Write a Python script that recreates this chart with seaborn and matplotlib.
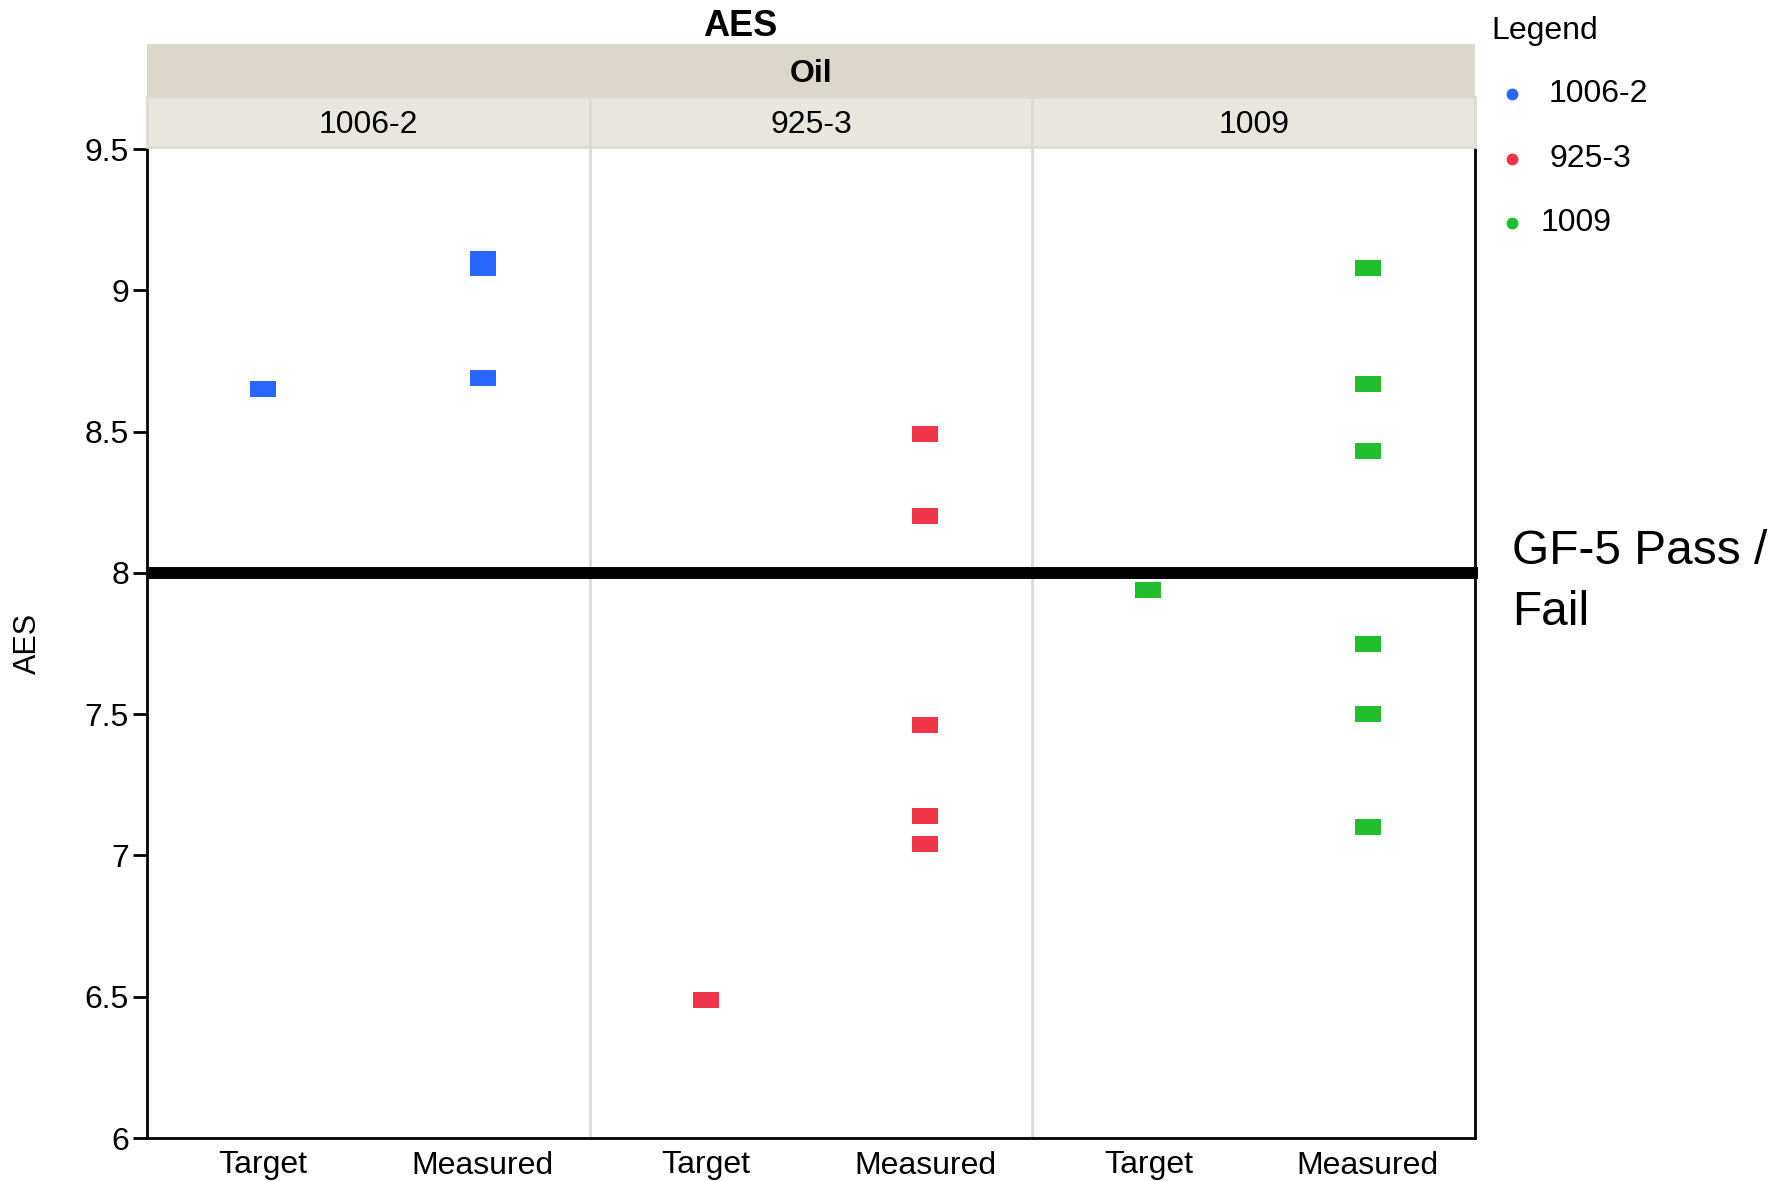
import numpy as np
import pandas as pd
import matplotlib
matplotlib.use("Agg")
import matplotlib.pyplot as plt
from matplotlib.patches import Rectangle
from matplotlib.lines import Line2D
import seaborn as sns

# ---- data ----
samples = ["1006-2", "925-3", "1009"]
categories = ["Target", "Measured"]
target_1006 = [8.65]
measured_1006 = [9.11, 9.08, 8.69]
target_925 = [6.49]
measured_925 = [8.49, 8.20, 7.46, 7.14, 7.04]
target_1009 = [7.94]
measured_1009 = [9.08, 8.67, 8.43, 7.75, 7.50, 7.10]
colors = ["#2767FF", "#F0344A", "#21BE2E"]
threshold = 8.0
yticks = [6, 6.5, 7, 7.5, 8, 8.5, 9, 9.5]

rows = []
for s, t, m in zip(samples, [target_1006, target_925, target_1009],
                   [measured_1006, measured_925, measured_1009]):
    rows += [(s, "Target", v) for v in t]
    rows += [(s, "Measured", v) for v in m]
df = pd.DataFrame(rows, columns=["Sample", "Type", "AES"])

sns.set_theme(style="white")
plt.rcParams["font.family"] = ["Liberation Sans", "DejaVu Sans"]
for k in ["text.color", "axes.labelcolor", "xtick.color", "ytick.color"]:
    plt.rcParams[k] = "black"

W, H = 1792, 1181
fig = plt.figure(figsize=(W / 100, H / 100), dpi=100)
left_px, right_px, top_px, bot_px = 147, 1475, 149, 1138
pw = (right_px - left_px) / 3

rect_marker = [(-1.625, -1), (1.625, -1), (1.625, 1), (-1.625, 1), (-1.625, -1)]

axes = []
for i, (s, c) in enumerate(zip(samples, colors)):
    x0 = left_px + i * pw
    ax = fig.add_axes([x0 / W, 1 - bot_px / H, pw / W, (bot_px - top_px) / H])
    axes.append(ax)
    sub = df[df["Sample"] == s]
    sns.stripplot(data=sub, x="Type", y="AES", order=categories, jitter=False,
                  color=c, marker=rect_marker, s=18.7, linewidth=0, ax=ax, zorder=3)
    ax.set_xlim(-0.528, 1.488)
    ax.set_ylim(6, 9.5)
    ax.set_xlabel("")
    ax.set_ylabel("")
    ax.tick_params(axis="x", length=0, labelsize=23, pad=9, colors="black")
    for sp in ax.spines.values():
        sp.set_visible(False)
    ax.spines["bottom"].set_visible(True)
    ax.spines["bottom"].set_color("black")
    ax.spines["bottom"].set_linewidth(2)
    if i == 0:
        ax.spines["left"].set_visible(True)
        ax.spines["left"].set_color("black")
        ax.spines["left"].set_linewidth(2)
        ax.set_yticks(yticks)
        ax.set_yticklabels([f"{v:g}" for v in yticks])
        ax.tick_params(axis="y", left=True, length=10, width=2, labelsize=23,
                       pad=3, colors="black", direction="out")
        ax.set_ylabel("AES", fontsize=22, labelpad=30)
    else:
        ax.set_yticks(yticks)
        ax.tick_params(axis="y", left=False, labelleft=False)
        ax.spines["left"].set_visible(True)
        ax.spines["left"].set_color("#D9D9D9")
        ax.spines["left"].set_linewidth(2)
    if i == 2:
        ax.spines["right"].set_visible(True)
        ax.spines["right"].set_color("black")
        ax.spines["right"].set_linewidth(2)
    ln = ax.axhline(threshold, color="black", lw=8.6, zorder=5, clip_on=False,
                    xmin=0.004 if i == 0 else -0.006, xmax=1.006 if i == 2 else 1)
    ln.set_solid_capstyle("butt")
    ax.grid(False)

# strips
fig.patches.append(Rectangle((left_px / W, 1 - 97 / H), (right_px - left_px) / W, 53 / H,
                             transform=fig.transFigure, facecolor="#DBD8CA", edgecolor="none"))
fig.text((left_px + right_px) / 2 / W, 1 - 74 / H, "Oil", ha="center", va="center",
         fontsize=23, fontweight="bold")
for i, s in enumerate(samples):
    x0 = left_px + i * pw
    fig.patches.append(Rectangle((x0 / W, 1 - 147 / H), pw / W, 50 / H,
                                 transform=fig.transFigure, facecolor="#E7E7DF",
                                 edgecolor="#DCDCD2", linewidth=2))
    fig.text((x0 + pw / 2) / W, 1 - 125 / H, s, ha="center", va="center", fontsize=23)

fig.text(740 / W, 1 - 27 / H, "AES", ha="center", va="center", fontsize=26, fontweight="bold")

# threshold label
fig.text(1512 / W, 1 - 551 / H, "GF-5 Pass /", ha="left", va="center", fontsize=34.5)
fig.text(1512 / W, 1 - 612 / H, "Fail", ha="left", va="center", fontsize=34.5)

# legend
fig.text(1491 / W, 1 - 31 / H, "Legend", ha="left", va="center", fontsize=23)
leg_y = [94, 159, 223]
leg_x = [1549, 1549, 1541]
for s, c, y, lx in zip(samples, colors, leg_y, leg_x):
    fig.lines.append(Line2D([1512 / W], [1 - y / H], transform=fig.transFigure,
                            marker="o", markersize=7.5, color=c, linestyle="none"))
    fig.text(lx / W, 1 - y / H, s, ha="left", va="center", fontsize=23)

fig.savefig("out.png", dpi=100)
